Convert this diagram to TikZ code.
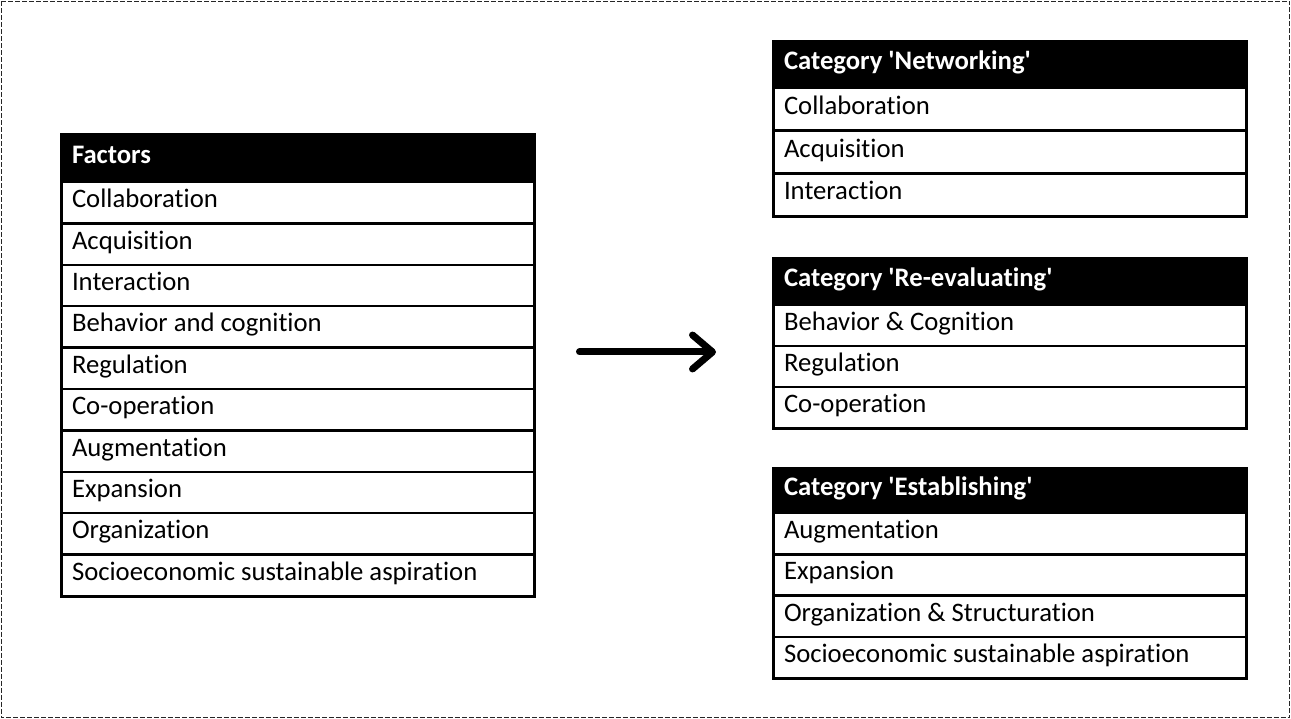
\documentclass[tikz,border=0pt]{standalone}
\usepackage{fontspec}
\setmainfont{Carlito}[Ligatures={NoCommon}]
\usetikzlibrary{arrows.meta}
\tikzset{
  cell/.style={draw=black, line width=2.5pt, rectangle, anchor=north west,
    minimum width=473pt, minimum height=#1,
    inner xsep=11pt, inner ysep=0pt, outer sep=0pt,
    text height=1em, text depth=0pt, font=\fontsize{26.7}{30}\selectfont},
  headcell/.style={cell=#1, fill=black, text=white,
    font=\fontsize{26.7}{30}\selectfont\bfseries},
  tableframe/.style={draw=black, line width=3pt},
  bigarrow/.style={line width=7pt, line cap=round,
    -{Straight Barb[round, length=20pt, width=34pt]}},
  outerframe/.style={draw=black!85, line width=1.4pt, dash pattern=on 5pt off 2pt}
}
\newcommand{\celltext}[1]{\makebox[451pt][l]{#1}}
\begin{document}
\begin{tikzpicture}[x=1pt, y=-1pt]
\useasboundingbox (0,0) rectangle (1291,719);
\draw[outerframe] (1.5,1.5) rectangle (1289.5,717.5);

% Left table
\node[headcell=47pt] (fh) at (61,135) {\celltext{Factors}};
\foreach \t [count=\i] in {Collaboration, Acquisition, Interaction,
  Behavior and cognition, Regulation, Co-operation, Augmentation,
  Expansion, Organization, Socioeconomic sustainable aspiration} {
  \node[cell=41.4pt] (f\i) at (61,{182+41.4*(\i-1)}) {\celltext{\t}};
}
\draw[tableframe] (fh.north west) rectangle (f10.south east);

% Networking
\node[headcell=46pt] (nh) at (773,42) {\celltext{Category \textquotesingle Networking\textquotesingle}};
\foreach \t [count=\i] in {Collaboration, Acquisition, Interaction} {
  \node[cell=42.7pt] (n\i) at (773,{88+42.7*(\i-1)}) {\celltext{\t}};
}
\draw[tableframe] (nh.north west) rectangle (n3.south east);

% Re-evaluating
\node[headcell=46pt] (rh) at (773,259) {\celltext{Category \textquotesingle Re-evaluating\textquotesingle}};
\foreach \t [count=\i] in {Behavior \& Cognition, Regulation, Co-operation} {
  \node[cell=41pt] (r\i) at (773,{305+41*(\i-1)}) {\celltext{\t}};
}
\draw[tableframe] (rh.north west) rectangle (r3.south east);

% Establishing
\node[headcell=45pt] (eh) at (773,468) {\celltext{Category \textquotesingle Establishing\textquotesingle}};
\foreach \t [count=\i] in {Augmentation, Expansion, Organization \& Structuration,
  Socioeconomic sustainable aspiration} {
  \node[cell=41.3pt] (e\i) at (773,{513+41.3*(\i-1)}) {\celltext{\t}};
}
\draw[tableframe] (eh.north west) rectangle (e4.south east);

% Arrow
\coordinate (a1) at (579.5,352);
\coordinate (a2) at (716,352);
\draw[bigarrow] (a1) -- (a2);
\end{tikzpicture}
\end{document}
